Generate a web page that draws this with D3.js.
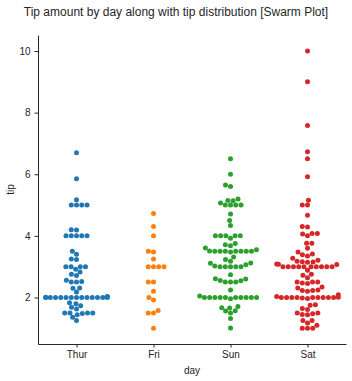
<!DOCTYPE html>
<html>
<head>
<meta charset="utf-8">
<script src="https://cdn.jsdelivr.net/npm/d3@7"></script>
<style>
  body { margin: 0; background: #fff; }
  text { font-family: "Liberation Sans", Arial, sans-serif; }
</style>
</head>
<body>
<div id="vis-container"></div>
<script>
// Tip values per day (tips dataset)
const days = ["Thur", "Fri", "Sun", "Sat"];
const thurTips = [4.00, 3.00, 2.71, 3.00, 3.40, 1.83, 5.00, 2.03, 5.17, 2.00, 4.00, 5.85, 3.00,
  1.50, 1.80, 2.92, 2.31, 1.68, 2.50, 2.00, 2.52, 4.20, 1.48, 2.00, 2.00, 2.18, 1.50, 2.83,
  1.50, 2.00, 3.25, 1.25, 2.00, 2.00, 2.00, 2.75, 3.50, 6.70, 5.00, 5.00, 2.30, 1.50, 1.36,
  1.63, 1.73, 2.00, 4.19, 2.56, 2.02, 4.00, 1.44, 2.00, 5.00, 2.00, 2.00, 4.00, 2.01, 2.00,
  2.50, 4.00, 3.23, 3.00];
const friTips = [3.00, 3.50, 1.00, 4.30, 3.25, 4.73, 4.00, 1.50, 3.00, 1.50, 2.50, 3.00,
  2.20, 3.48, 1.92, 3.00, 1.58, 2.50, 2.00];
const sunTips = [1.01, 1.66, 3.50, 3.31, 3.61, 4.71, 2.00, 3.12, 1.96, 3.23, 1.71, 5.00, 1.57,
  3.00, 3.02, 3.92, 1.67, 3.71, 3.50, 2.54, 3.06, 1.32, 5.60, 3.00, 5.00, 6.00, 2.05, 3.00,
  2.50, 2.60, 5.20, 1.56, 4.34, 3.51, 4.00, 2.55, 4.00, 3.50, 5.07, 2.50, 2.00, 2.74, 2.00,
  2.00, 5.14, 5.00, 3.75, 2.61, 2.00, 3.50, 2.50, 2.00, 2.00, 3.00, 3.48, 2.24, 4.50, 5.15,
  3.18, 4.00, 3.11, 2.00, 2.00, 4.00, 3.55, 3.68, 5.65, 3.50, 6.50, 3.00, 5.00, 3.50, 2.00,
  3.50, 4.00, 1.50];
const satTips = [3.35, 4.08, 2.75, 2.23, 7.58, 3.18, 2.34, 2.00, 2.00, 4.30, 3.00, 1.45, 2.50,
  3.00, 2.45, 3.27, 3.60, 2.00, 3.07, 2.31, 5.00, 2.24, 3.00, 1.50, 1.76, 6.73, 3.21, 2.00,
  1.98, 3.76, 2.64, 3.15, 2.47, 1.00, 2.01, 2.09, 1.97, 3.00, 3.14, 5.00, 2.20, 1.25, 3.08,
  2.50, 3.48, 4.08, 1.64, 4.06, 4.29, 3.76, 4.00, 3.00, 1.00, 1.61, 2.00, 10.00, 3.16, 3.41,
  3.00, 2.03, 2.23, 2.00, 5.16, 9.00, 2.50, 6.50, 1.10, 3.00, 1.50, 1.44, 3.09, 3.00, 2.72,
  2.88, 2.00, 3.00, 3.39, 1.47, 3.00, 1.25, 1.00, 1.17, 4.67, 5.92, 2.00, 2.00, 1.75];
const tipsByDay = [thurTips, friTips, sunTips, satTips];
const yTicks = [2, 4, 6, 8, 10];

const width = 352;
const height = 381;
const margin = { top: 35, right: 6, bottom: 37, left: 38 };

const svg = d3.select("#vis-container")
  .append("svg")
  .attr("width", width)
  .attr("height", height);

const color = d3.scaleOrdinal()
  .domain(days)
  .range(["#1f77b4", "#ff7f0e", "#2ca02c", "#d62728"]);

// categorical positions 0..3 with half a slot on each side
const x = d3.scaleLinear()
  .domain([-0.5, days.length - 0.5])
  .range([margin.left, width - margin.right]);

const y = d3.scaleLinear()
  .domain([0.49, 10.52])
  .range([height - margin.bottom, margin.top]);

const r = 2.5;
const halfWidth = (x(1) - x(0)) * 0.4;

// seaborn-style beeswarm: sort by value, put each point at the
// candidate closest to the midline that does not overlap
function swarm(vals, cx) {
  const pts = vals.map(v => ({ v: v, x: cx, u: -y(v) }));
  pts.sort((a, b) => a.u - b.u);
  const placed = [pts[0]];
  for (let k = 1; k < pts.length; k++) {
    const p = pts[k];
    const nb = [];
    for (let j = placed.length - 1; j >= 0; j--) {
      if (p.u - placed[j].u < 2 * r) nb.push(placed[j]);
      else break;
    }
    const cands = [cx];
    let leftFirst = true;
    nb.forEach(q => {
      const dy = p.u - q.u;
      const dx = Math.sqrt(Math.max(4 * r * r - dy * dy, 0)) * 1.05;
      if (leftFirst) cands.push(q.x - dx, q.x + dx);
      else cands.push(q.x + dx, q.x - dx);
      leftFirst = !leftFirst;
    });
    const order = d3.range(cands.length)
      .sort((a, b) => (Math.abs(cands[a] - cx) - Math.abs(cands[b] - cx)) || (a - b));
    for (const i of order) {
      const c = cands[i];
      if (nb.every(q => (q.x - c) ** 2 + (q.u - p.u) ** 2 >= 4 * r * r - 1e-9)) {
        p.x = c;
        break;
      }
    }
    placed.push(p);
  }
  // gutters
  placed.forEach(p => {
    p.x = Math.max(cx - halfWidth, Math.min(cx + halfWidth, p.x));
  });
  return placed;
}

// Title
svg.append("text")
  .attr("x", width / 2)
  .attr("y", 16)
  .attr("text-anchor", "middle")
  .attr("font-size", "12px")
  .attr("fill", "#262626")
  .text("Tip amount by day along with tip distribution [Swarm Plot]");

// X axis
const xAxis = svg.append("g")
  .attr("transform", `translate(0,${height - margin.bottom})`)
  .call(d3.axisBottom(x)
    .tickValues(d3.range(days.length))
    .tickFormat(i => days[i])
    .tickSize(3.5)
    .tickSizeOuter(0)
    .tickPadding(3));

// Y axis
const yAxis = svg.append("g")
  .attr("transform", `translate(${margin.left},0)`)
  .call(d3.axisLeft(y)
    .tickValues(yTicks)
    .tickSize(3.5)
    .tickSizeOuter(0)
    .tickPadding(4));

[xAxis, yAxis].forEach(g => {
  g.attr("font-size", "10px").attr("font-family", null);
  g.selectAll("path, line").attr("stroke", "#262626").attr("stroke-width", 1);
  g.selectAll("text").attr("fill", "#262626");
});

// Axis labels
svg.append("text")
  .attr("x", (margin.left + width - margin.right) / 2)
  .attr("y", 374)
  .attr("text-anchor", "middle")
  .attr("font-size", "10px")
  .attr("fill", "#262626")
  .text("day");

svg.append("text")
  .attr("transform", `translate(14,${(margin.top + height - margin.bottom) / 2}) rotate(-90)`)
  .attr("text-anchor", "middle")
  .attr("font-size", "10px")
  .attr("fill", "#262626")
  .text("tip");

// Points
tipsByDay.forEach((vals, i) => {
  svg.append("g")
    .selectAll("circle")
    .data(swarm(vals, x(i)))
    .enter()
    .append("circle")
    .attr("cx", d => d.x)
    .attr("cy", d => -d.u)
    .attr("r", r)
    .attr("fill", color(days[i]));
});
</script>
</body>
</html>
